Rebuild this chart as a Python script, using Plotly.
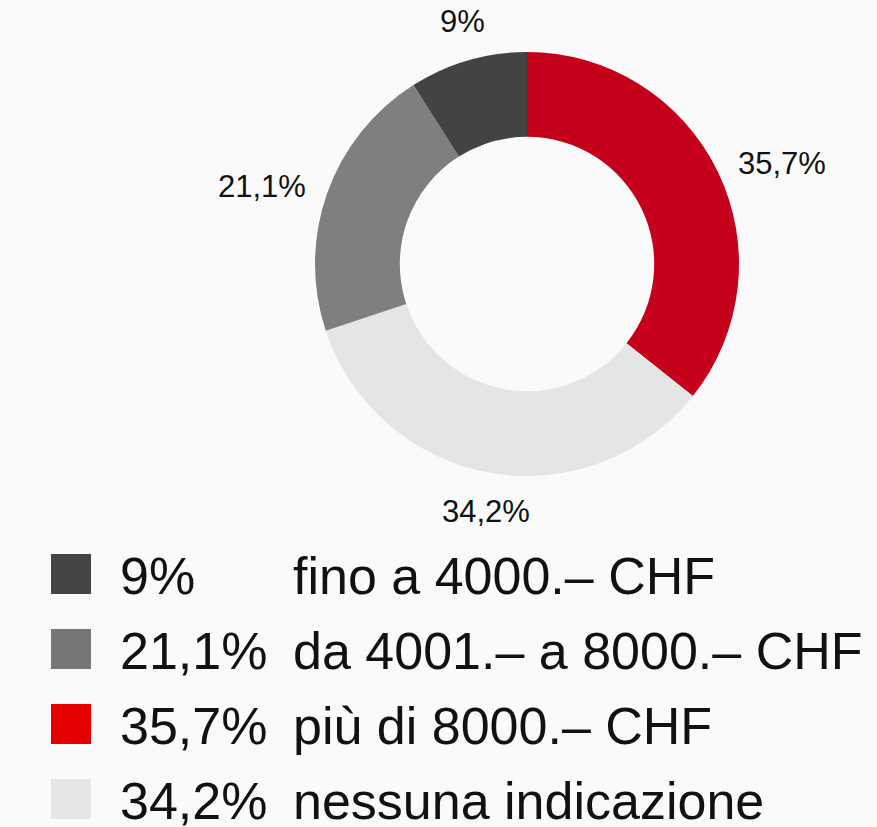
import math
import plotly.graph_objects as go

# ---- data ----
labels = ["più di 8000.– CHF", "nessuna indicazione", "da 4001.– a 8000.– CHF", "fino a 4000.– CHF"]
values = [35.7, 34.2, 21.1, 9.0]
value_text = ["35,7%", "34,2%", "21,1%", "9%"]
colors = ["#c4001a", "#e5e5e5", "#7f7f7f", "#434343"]

legend_pct = ["9%", "21,1%", "35,7%", "34,2%"]
legend_desc = ["fino a 4000.– CHF", "da 4001.– a 8000.– CHF", "più di 8000.– CHF", "nessuna indicazione"]
legend_colors = ["#444444", "#777777", "#e60000", "#e6e6e6"]

W, H = 877, 827
BG = "#fafafa"
FONT = "Liberation Sans, Arial, sans-serif"

# pie geometry (pixels)
cx, cy, R = 527, 264, 212

fig = go.Figure()
fig.add_trace(go.Pie(
    labels=labels, values=values, marker=dict(colors=colors, line=dict(width=0)),
    hole=0.6, sort=False, direction="clockwise", rotation=0,
    textinfo="none", hoverinfo="label+percent", showlegend=False,
    domain=dict(x=[(cx - R) / W, (cx + R) / W], y=[1 - (cy + R) / H, 1 - (cy - R) / H]),
))

annotations = []
# slice labels, placed outside at each slice's mid-angle
total = sum(values)
acc = 0.0
gap = 20
for v, t in zip(values, value_text):
    mid = (acc + v / 2) / total * 2 * math.pi
    acc += v
    s, c = math.sin(mid), math.cos(mid)
    px = cx + (R + gap) * s
    py = cy - (R + gap) * c
    xa = "left" if s > 0.5 else ("right" if s < -0.5 else "center")
    ya = "bottom" if c > 0.5 else ("top" if c < -0.5 else "middle")
    annotations.append(dict(
        x=px / W, y=1 - py / H, xref="paper", yref="paper", text=t, showarrow=False,
        xanchor=xa, yanchor=ya, font=dict(family=FONT, size=31, color="#111111"),
    ))

# custom legend
shapes = []
row0, step, sq = 574, 75, 40
for i, (p, d, col) in enumerate(zip(legend_pct, legend_desc, legend_colors)):
    yc = row0 + i * step
    shapes.append(dict(type="rect", xref="paper", yref="paper",
                       x0=51 / W, x1=(51 + sq) / W,
                       y0=1 - (yc + sq / 2) / H, y1=1 - (yc - sq / 2) / H,
                       fillcolor=col, line=dict(width=0)))
    for xpos, txt in ((118, p), (291, d)):
        annotations.append(dict(
            x=xpos / W, y=1 - (yc + 2) / H, xref="paper", yref="paper", text=txt,
            showarrow=False, xanchor="left", yanchor="middle",
            font=dict(family=FONT, size=52, color="#111111"),
        ))

fig.update_layout(
    width=W, height=H, margin=dict(l=0, r=0, t=0, b=0),
    paper_bgcolor=BG, plot_bgcolor=BG,
    annotations=annotations, shapes=shapes, showlegend=False,
)
fig.write_html(
    "out.html",
    config={"displayModeBar": False},
    post_script="document.body.style.margin='0';document.body.style.padding='0';"
                "document.body.style.background='" + BG + "';",
)
